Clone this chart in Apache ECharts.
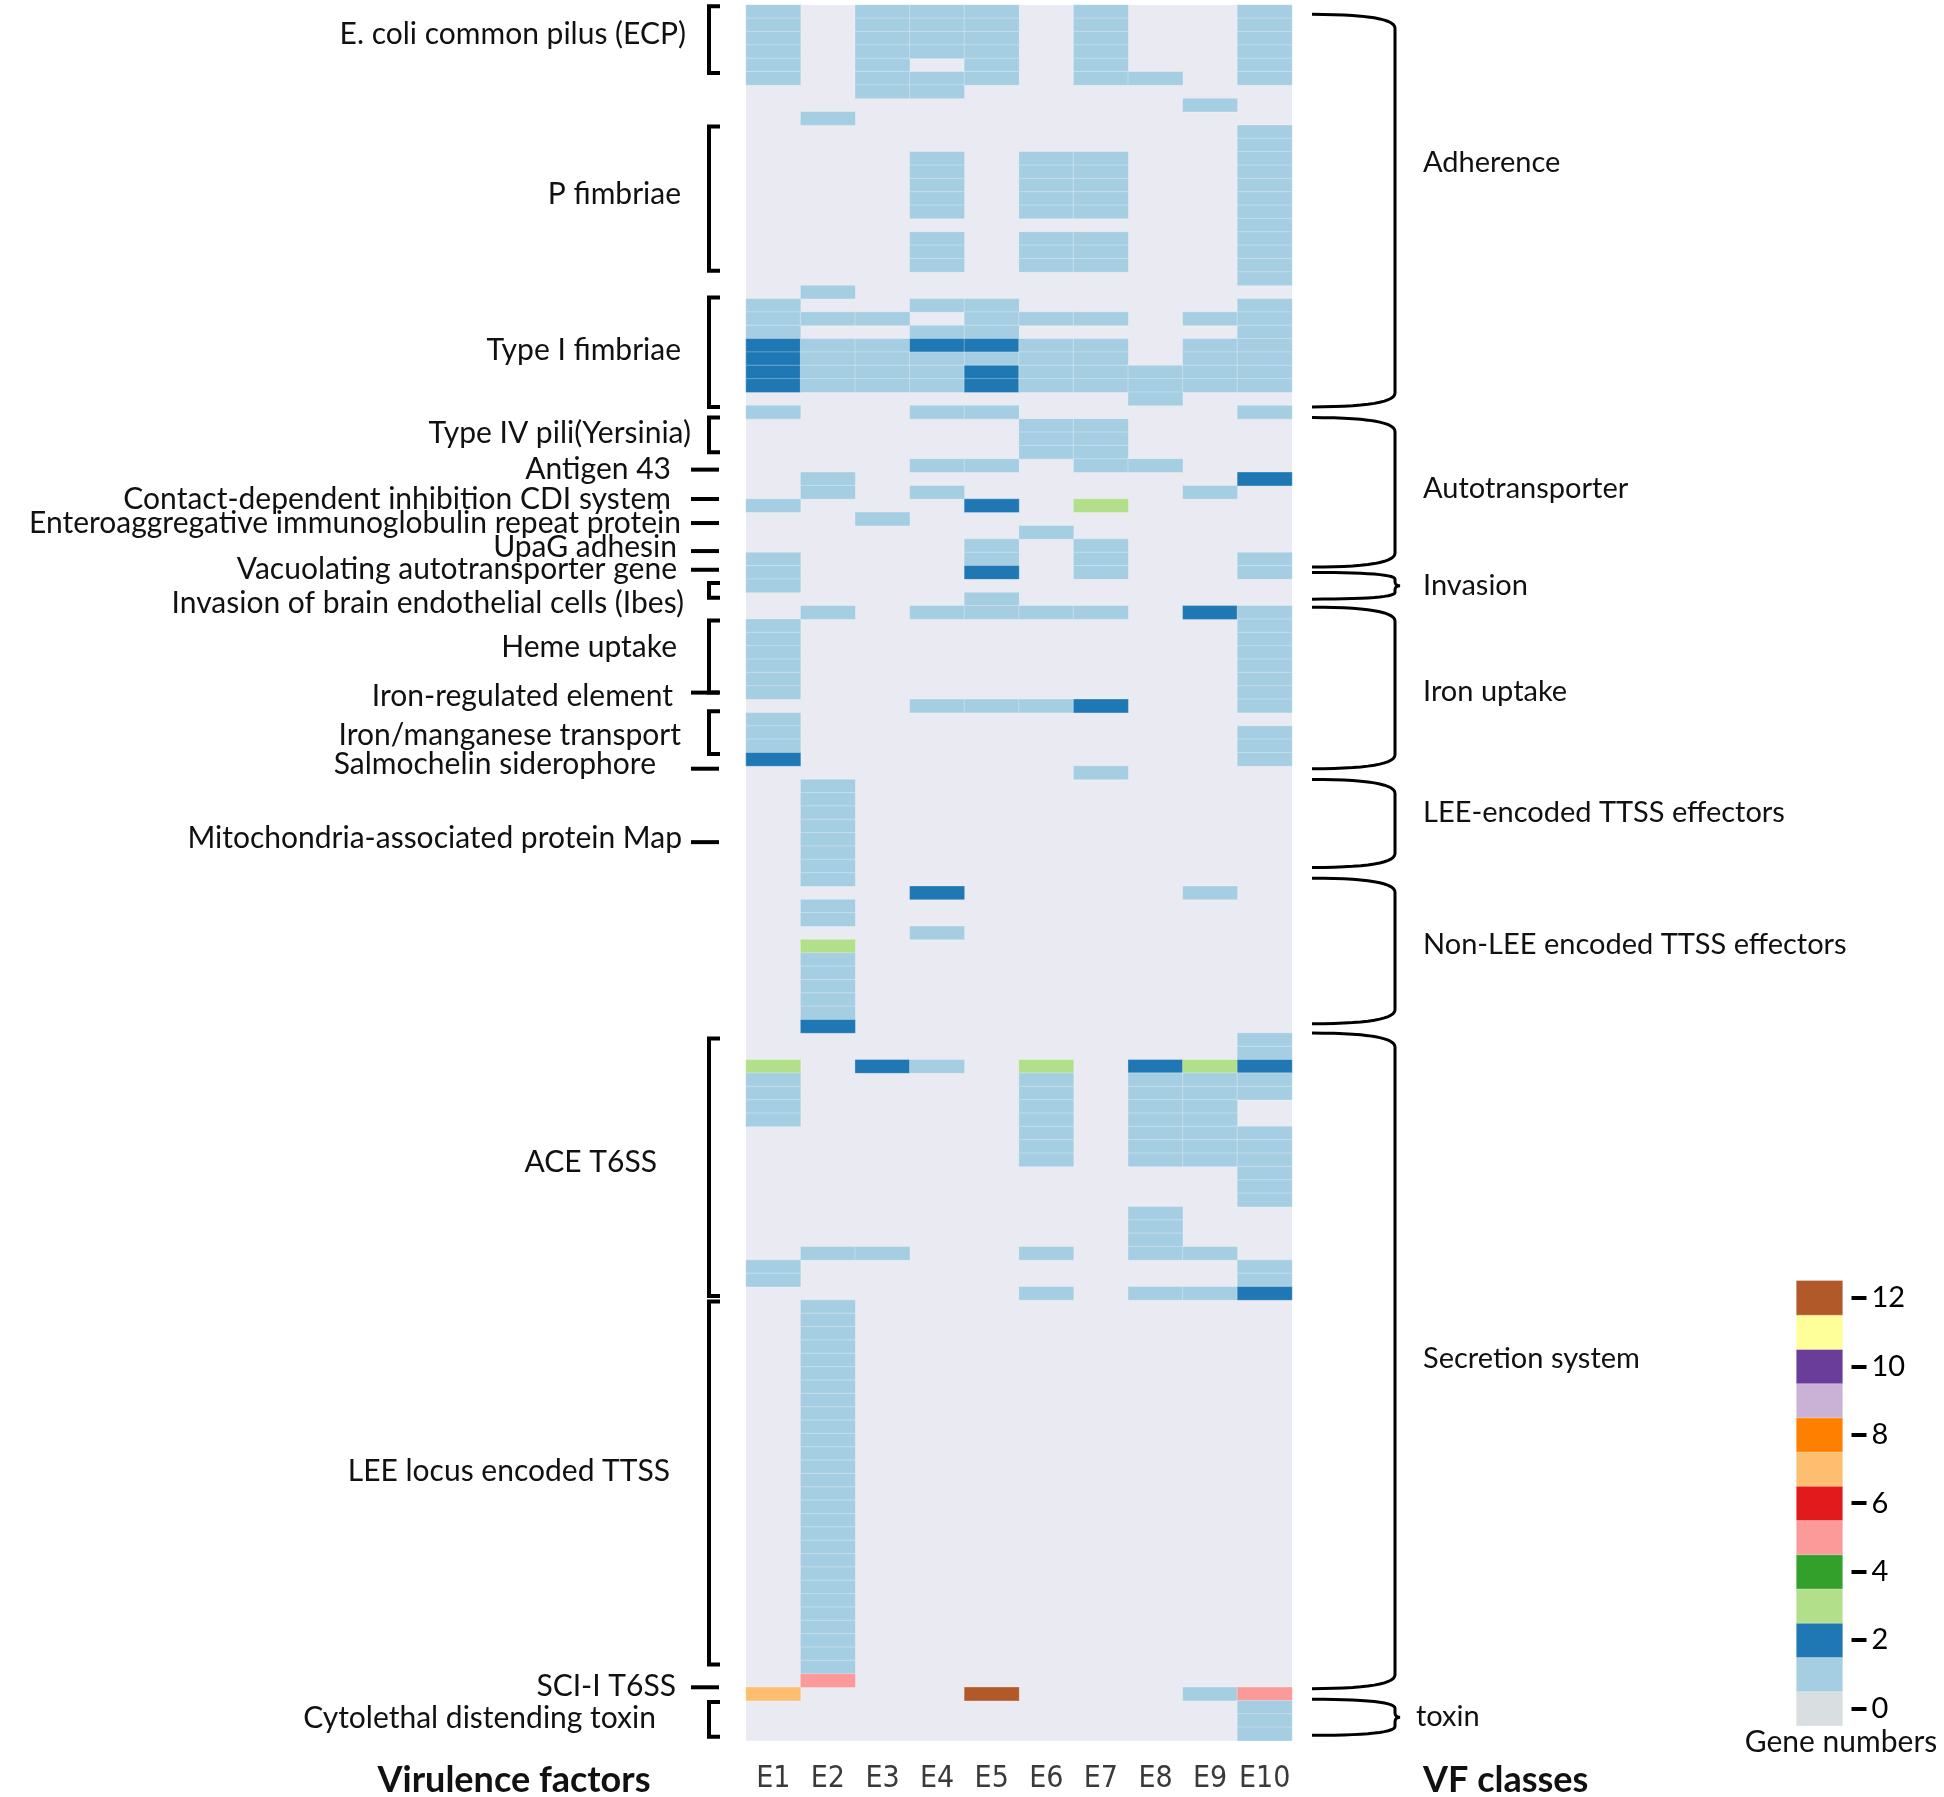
<!DOCTYPE html>
<html><head><meta charset="utf-8">
<script src="https://cdn.jsdelivr.net/npm/echarts@6/dist/echarts.min.js"></script>
<style>html,body{margin:0;padding:0;background:#fff}#c{width:1944px;height:1797px}</style>
</head><body><div id="c"></div>
<script>
// ---------------- DATA ----------------
const strains = ['E1','E2','E3','E4','E5','E6','E7','E8','E9','E10'];
// gene numbers per virulence gene row (130 rows, top to bottom), one array per strain
const E1 = [1,1,1,1,1,1,0,0,0,0, 0,0,0,0,0,0,0,0,0,0, 0,0,1,1,1,2,2,2,2,0, 1,0,0,0,0,0,0,1,0,0,
            0,1,1,1,0,0,1,1,1,1, 1,1,0,1,1,1,2,0,0,0, 0,0,0,0,0,0,0,0,0,0, 0,0,0,0,0,0,0,0,0,3,
            1,1,1,1,0,0,0,0,0,0, 0,0,0,0,1,1,0,0,0,0, 0,0,0,0,0,0,0,0,0,0, 0,0,0,0,0,0,0,0,0,0,
            0,0,0,0,0,0,7,0,0,0];
const E2 = [0,0,0,0,0,0,0,0,1,0, 0,0,0,0,0,0,0,0,0,0, 0,1,0,1,0,1,1,1,1,0, 0,0,0,0,0,1,1,0,0,0,
            0,0,0,0,0,1,0,0,0,0, 0,0,0,0,0,0,0,0,1,1, 1,1,1,1,1,1,0,1,1,0, 3,1,1,1,1,1,2,0,0,0,
            0,0,0,0,0,0,0,0,0,0, 0,0,0,1,0,0,0,1,1,1, 1,1,1,1,1,1,1,1,1,1, 1,1,1,1,1,1,1,1,1,1,
            1,1,1,1,1,5,0,0,0,0];
const E3 = [1,1,1,1,1,1,1,0,0,0, 0,0,0,0,0,0,0,0,0,0, 0,0,0,1,0,1,1,1,1,0, 0,0,0,0,0,0,0,0,1,0,
            0,0,0,0,0,0,0,0,0,0, 0,0,0,0,0,0,0,0,0,0, 0,0,0,0,0,0,0,0,0,0, 0,0,0,0,0,0,0,0,0,2,
            0,0,0,0,0,0,0,0,0,0, 0,0,0,1,0,0,0,0,0,0, 0,0,0,0,0,0,0,0,0,0, 0,0,0,0,0,0,0,0,0,0,
            0,0,0,0,0,0,0,0,0,0];
const E4 = [1,1,1,1,0,1,1,0,0,0, 0,1,1,1,1,1,0,1,1,1, 0,0,1,0,1,2,1,1,1,0, 1,0,0,0,1,0,1,0,0,0,
            0,0,0,0,0,1,0,0,0,0, 0,0,1,0,0,0,0,0,0,0, 0,0,0,0,0,0,2,0,0,1, 0,0,0,0,0,0,0,0,0,1,
            0,0,0,0,0,0,0,0,0,0, 0,0,0,0,0,0,0,0,0,0, 0,0,0,0,0,0,0,0,0,0, 0,0,0,0,0,0,0,0,0,0,
            0,0,0,0,0,0,0,0,0,0];
const E5 = [1,1,1,1,1,1,0,0,0,0, 0,0,0,0,0,0,0,0,0,0, 0,0,1,1,1,2,1,2,2,0, 1,0,0,0,1,0,0,2,0,0,
            1,1,2,0,1,1,0,0,0,0, 0,0,1,0,0,0,0,0,0,0, 0,0,0,0,0,0,0,0,0,0, 0,0,0,0,0,0,0,0,0,0,
            0,0,0,0,0,0,0,0,0,0, 0,0,0,0,0,0,0,0,0,0, 0,0,0,0,0,0,0,0,0,0, 0,0,0,0,0,0,0,0,0,0,
            0,0,0,0,0,0,12,0,0,0];
const E6 = [0,0,0,0,0,0,0,0,0,0, 0,1,1,1,1,1,0,1,1,1, 0,0,0,1,0,1,1,1,1,0, 0,1,1,1,0,0,0,0,0,1,
            0,0,0,0,0,1,0,0,0,0, 0,0,1,0,0,0,0,0,0,0, 0,0,0,0,0,0,0,0,0,0, 0,0,0,0,0,0,0,0,0,3,
            1,1,1,1,1,1,1,0,0,0, 0,0,0,1,0,0,1,0,0,0, 0,0,0,0,0,0,0,0,0,0, 0,0,0,0,0,0,0,0,0,0,
            0,0,0,0,0,0,0,0,0,0];
const E7 = [1,1,1,1,1,1,0,0,0,0, 0,1,1,1,1,1,0,1,1,1, 0,0,0,1,0,1,1,1,1,0, 0,1,1,1,1,0,0,3,0,0,
            1,1,1,0,0,1,0,0,0,0, 0,0,2,0,0,0,0,1,0,0, 0,0,0,0,0,0,0,0,0,0, 0,0,0,0,0,0,0,0,0,0,
            0,0,0,0,0,0,0,0,0,0, 0,0,0,0,0,0,0,0,0,0, 0,0,0,0,0,0,0,0,0,0, 0,0,0,0,0,0,0,0,0,0,
            0,0,0,0,0,0,0,0,0,0];
const E8 = [0,0,0,0,0,1,0,0,0,0, 0,0,0,0,0,0,0,0,0,0, 0,0,0,0,0,0,0,1,1,1, 0,0,0,0,1,0,0,0,0,0,
            0,0,0,0,0,0,0,0,0,0, 0,0,0,0,0,0,0,0,0,0, 0,0,0,0,0,0,0,0,0,0, 0,0,0,0,0,0,0,0,0,2,
            1,1,1,1,1,1,1,0,0,0, 1,1,1,1,0,0,1,0,0,0, 0,0,0,0,0,0,0,0,0,0, 0,0,0,0,0,0,0,0,0,0,
            0,0,0,0,0,0,0,0,0,0];
const E9 = [0,0,0,0,0,0,0,1,0,0, 0,0,0,0,0,0,0,0,0,0, 0,0,0,1,0,1,1,1,1,0, 0,0,0,0,0,0,1,0,0,0,
            0,0,0,0,0,2,0,0,0,0, 0,0,0,0,0,0,0,0,0,0, 0,0,0,0,0,0,1,0,0,0, 0,0,0,0,0,0,0,0,0,3,
            1,1,1,1,1,1,1,0,0,0, 0,0,0,1,0,0,1,0,0,0, 0,0,0,0,0,0,0,0,0,0, 0,0,0,0,0,0,0,0,0,0,
            0,0,0,0,0,0,1,0,0,0];
const E10 = [1,1,1,1,1,1,0,0,0,1, 1,1,1,1,1,1,1,1,1,1, 1,0,1,1,1,1,1,1,1,0, 1,0,0,0,0,2,0,0,0,0,
             0,1,1,0,0,1,1,1,1,1, 1,1,1,0,1,1,1,0,0,0, 0,0,0,0,0,0,0,0,0,0, 0,0,0,0,0,0,0,1,1,2,
             1,1,0,0,1,1,1,1,1,1, 0,0,0,0,1,1,2,0,0,0, 0,0,0,0,0,0,0,0,0,0, 0,0,0,0,0,0,0,0,0,0,
             0,0,0,0,0,0,5,1,1,1];
const geneTicks = ['0','1','2','3','4','5','6','7','8','9','10','11','12'];
// virulence factor groups: name, first row edge, last row edge, label row
const vfNames  = ['E. coli common pilus (ECP)','P fimbriae','Type I fimbriae','Type IV pili(Yersinia)','Antigen 43',
  'Contact-dependent inhibition CDI system','Enteroaggregative immunoglobulin repeat protein','UpaG adhesin',
  'Vacuolating autotransporter gene','Invasion of brain endothelial cells (Ibes)','Heme uptake','Iron-regulated element',
  'Iron/manganese transport','Salmochelin siderophore','Mitochondria-associated protein Map','ACE T6SS',
  'LEE locus encoded TTSS','SCI-I T6SS','Cytolethal distending toxin'];
const vfFrom   = [0.1, 9.1, 21.9, 30.9, 34.8, 37.0, 38.8, 40.9, 42.3, 43.3, 46.1, 51.5, 52.9, 57.2, 62.7, 77.4, 97.1, 126.0, 127.1];
const vfTo     = [5.1, 19.9, 30.1, 33.5, 34.8, 37.0, 38.8, 40.9, 42.3, 44.4, 51.5, 51.5, 56.1, 57.2, 62.7, 96.7, 124.3, 126.0, 129.7];
const vfLabel  = [2.2, 14.2, 25.9, 32.1, 34.8, 37.0, 38.8, 40.6, 42.3, 44.8, 48.1, 51.8, 54.7, 56.9, 62.4, 86.7, 109.8, 125.9, 128.3];
const classNames = ['Adherence','Autotransporter','Invasion','Iron uptake','LEE-encoded TTSS effectors',
  'Non-LEE encoded TTSS effectors','Secretion system','toxin'];
const classFrom  = [0.7, 30.9, 42.5, 45.1, 58.0, 65.4, 77.0, 126.9];
const classTo    = [30.1, 42.1, 44.5, 57.2, 64.6, 76.3, 126.1, 129.6];
const classLabel = [11.8, 36.2, 43.5, 51.4, 60.5, 70.4, 101.4, 128.2];

// ---------------- STYLE / LAYOUT ----------------
const pairedColors = ['#D9DEE1','#A6CEE3','#1F78B4','#B2DF8A','#33A02C','#FB9A99','#E31A1C','#FDBF6F','#FF7F00','#CAB2D6','#6A3D9A','#FFFF99','#B15928'];
const labelDx = [-60,-65,-65,-55,-75,-75,-65,-69,-69,-62,-69,-73,-65,-90,-64,-89,-76,-70,-90];
const FONT = 'Lato, "Open Sans", sans-serif';
const LABEL_SIZE = 30;

const columns = [E1,E2,E3,E4,E5,E6,E7,E8,E9,E10];
const rowIds = E1.map((_, i) => 'gene' + (i + 1));
const cells = [];
columns.forEach((col, xi) => col.forEach((v, yi) => { if (v > 0) cells.push([xi, yi, v]); }));

const chart = echarts.init(document.getElementById('c'));
chart.setOption({
  animation: false,
  backgroundColor: '#fff',
  grid: [
    { left: 746, top: 5, width: 546, height: 1735.7, show: true, backgroundColor: '#EAEAF2', borderWidth: 0 },
    { left: 1796.5, top: 1280.7, width: 46, height: 445 }
  ],
  xAxis: [
    { type: 'category', data: strains, gridIndex: 0, axisLine: { show: false }, axisTick: { show: false },
      splitLine: { show: false },
      axisLabel: { interval: 0, fontSize: 30, color: '#3a3a3a', margin: 24,
                   fontFamily: '"Liberation Sans Narrow", "DejaVu Sans Condensed", "Liberation Sans", sans-serif' } },
    { type: 'category', data: ['Gene numbers'], gridIndex: 1, show: false }
  ],
  yAxis: [
    { type: 'category', data: rowIds, inverse: true, gridIndex: 0, show: false },
    { type: 'category', data: geneTicks, gridIndex: 1, position: 'right', offset: 9,
      axisLine: { show: false },
      axisTick: { show: true, alignWithLabel: true, interval: (i) => i % 2 === 0, length: 15, lineStyle: { color: '#000', width: 4 } },
      axisLabel: { interval: (i) => i % 2 === 0, margin: 20, fontSize: 29, color: '#000', fontFamily: FONT },
      splitLine: { show: false } }
  ],
  visualMap: {
    type: 'piecewise', show: false, dimension: 2, seriesIndex: [0, 1],
    pieces: geneTicks.map((t, i) => ({ value: i, color: pairedColors[i] }))
  },
  series: [
    { type: 'heatmap', xAxisIndex: 0, yAxisIndex: 0, data: cells,
      itemStyle: { borderColor: 'rgba(255,255,255,0.28)', borderWidth: 1 } },
    { type: 'heatmap', xAxisIndex: 1, yAxisIndex: 1, data: geneTicks.map((t, i) => [0, i, i]),
      itemStyle: { borderColor: 'rgba(255,255,255,0.3)', borderWidth: 1 } }
  ]
});

// -------- annotations positioned through the heatmap's own axes --------
const p0 = chart.convertToPixel({ gridIndex: 0 }, [0, 0]);
const pN = chart.convertToPixel({ gridIndex: 0 }, [strains.length - 1, rowIds.length - 1]);
const colW = (pN[0] - p0[0]) / (strains.length - 1);
const rowH = (pN[1] - p0[1]) / (rowIds.length - 1);
const GL = p0[0] - colW / 2, GR = pN[0] + colW / 2;
const rowEdge = (r) => p0[1] - rowH / 2 + r * rowH;

const graphics = [];
const txt = (text, x, y, align, size, weight) => graphics.push({
  type: 'text', x: x, y: y,
  style: { text: text, textAlign: align, textVerticalAlign: 'middle', fill: '#111',
           font: (weight || 'normal') + ' ' + size + 'px ' + FONT }
});
const line = (pts, w) => graphics.push({ type: 'polyline', shape: { points: pts }, style: { stroke: '#000', lineWidth: w || 4, fill: null } });

vfNames.forEach((name, i) => {
  const y0 = rowEdge(vfFrom[i]), y1 = rowEdge(vfTo[i]);
  txt(name, GL + labelDx[i], rowEdge(vfLabel[i]), 'right', LABEL_SIZE);
  if (vfTo[i] - vfFrom[i] < 0.05) {
    line([[GL - 55, y0], [GL - 27, y0]], 4);
  } else {
    line([[GL - 26, y0], [GL - 37, y0], [GL - 37, y1], [GL - 26, y1]], 4);
  }
});

function quad(a, c, b, n) {
  const out = [];
  for (let k = 1; k <= n; k++) {
    const t = k / n;
    out.push([(1 - t) * (1 - t) * a[0] + 2 * (1 - t) * t * c[0] + t * t * b[0],
              (1 - t) * (1 - t) * a[1] + 2 * (1 - t) * t * c[1] + t * t * b[1]]);
  }
  return out;
}
classNames.forEach((name, i) => {
  const y0 = rowEdge(classFrom[i]), y1 = rowEdge(classTo[i]), ym = (y0 + y1) / 2;
  const xT = GR + 20, xV = GR + 103, xC = GR + 108;
  const small = (y1 - y0) < 60;
  const r = Math.min(14, (y1 - y0) / 4), r2 = Math.min(5, (y1 - y0) / 6);
  let pts = [[xT, y0]];
  pts = pts.concat(quad([xT, y0], [xV, y0], [xV, y0 + r], 14));
  if (small) {
    pts.push([xV, ym - r2]);
    pts = pts.concat(quad([xV, ym - r2], [xV, ym], [xC, ym], 6));
    pts = pts.concat(quad([xC, ym], [xV, ym], [xV, ym + r2], 6));
  }
  pts.push([xV, y1 - r]);
  pts = pts.concat(quad([xV, y1 - r], [xV, y1], [xT, y1], 14));
  line(pts, 3);
  txt(name, GR + (name === 'toxin' ? 124 : 131), rowEdge(classLabel[i]), 'left', 29);
});

const axisY = p0[1] - rowH / 2 + rowIds.length * rowH + 40;
txt('Virulence factors', 514, axisY, 'center', 36, 'bold');
txt('VF classes', GR + 131, axisY, 'left', 36, 'bold');
txt('Gene numbers', 1841, 1742, 'center', 30);

chart.setOption({ graphic: { elements: graphics } });
</script>
</body></html>
